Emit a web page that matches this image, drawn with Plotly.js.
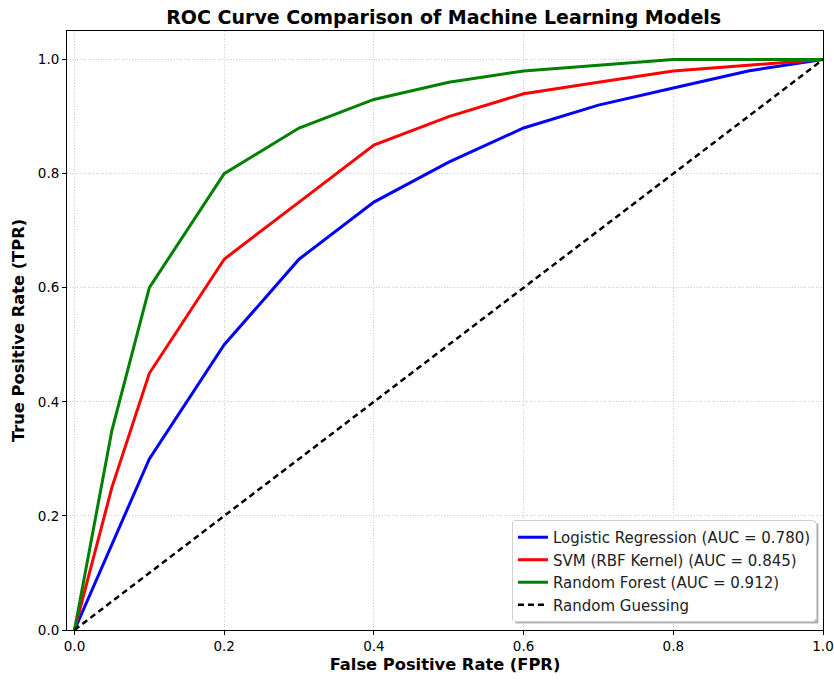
<!DOCTYPE html>
<html>
<head>
<meta charset="utf-8">
<script src="https://cdn.plot.ly/plotly-3.0.1.min.js"></script>
<style>html,body{margin:0;padding:0;background:#fff;}#chart{width:834px;height:680px;}</style>
</head>
<body>
<div id="chart"></div>
<script>
const lrFPR = [0, 0.05, 0.1, 0.2, 0.3, 0.4, 0.5, 0.6, 0.7, 0.8, 0.9, 1.0];
const lrTPR = [0, 0.15, 0.30, 0.50, 0.65, 0.75, 0.82, 0.88, 0.92, 0.95, 0.98, 1.0];
const svmFPR = [0, 0.05, 0.1, 0.2, 0.3, 0.4, 0.5, 0.6, 0.7, 0.8, 0.9, 1.0];
const svmTPR = [0, 0.25, 0.45, 0.65, 0.75, 0.85, 0.90, 0.94, 0.96, 0.98, 0.99, 1.0];
const rfFPR = [0, 0.05, 0.1, 0.2, 0.3, 0.4, 0.5, 0.6, 0.7, 0.8, 0.9, 1.0];
const rfTPR = [0, 0.35, 0.60, 0.80, 0.88, 0.93, 0.96, 0.98, 0.99, 1.0, 1.0, 1.0];
const diagX = [0, 1];
const diagY = [0, 1];
const seriesNames = ["Logistic Regression (AUC = 0.780)", "SVM (RBF Kernel) (AUC = 0.845)", "Random Forest (AUC = 0.912)", "Random Guessing"];
const tickVals = [0, 0.2, 0.4, 0.6, 0.8, 1.0];
const tickText = ["0.0", "0.2", "0.4", "0.6", "0.8", "1.0"];

const font = "DejaVu Sans, sans-serif";
const traces = [
  {x: lrFPR, y: lrTPR, mode: "lines", name: seriesNames[0], line: {color: "#0000ff", width: 3}},
  {x: svmFPR, y: svmTPR, mode: "lines", name: seriesNames[1], line: {color: "#ff0000", width: 3}},
  {x: rfFPR, y: rfTPR, mode: "lines", name: seriesNames[2], line: {color: "#008000", width: 3}},
  {x: diagX, y: diagY, mode: "lines", name: seriesNames[3], line: {color: "#000000", width: 2.5, dash: "6px,4px"}}
];
const axisCommon = {
  showline: true, linecolor: "#000", linewidth: 1, mirror: true,
  ticks: "outside", ticklen: 4, tickcolor: "#000", tickwidth: 1,
  showgrid: true, gridcolor: "#cfcfcf", griddash: "1px,1.6px", gridwidth: 1,
  zeroline: false, tickvals: tickVals, ticktext: tickText,
  tickfont: {family: font, size: 13.5, color: "#000"}
};
const layout = {
  width: 834, height: 680,
  margin: {l: 67, r: 11, t: 31, b: 50},
  paper_bgcolor: "#fff", plot_bgcolor: "#fff",
  title: {text: "<b>ROC Curve Comparison of Machine Learning Models</b>", font: {family: font, size: 19, color: "#000"}, x: 0.532, xanchor: "center", y: 0.975, yanchor: "middle"},
  xaxis: Object.assign({}, axisCommon, {range: [-0.01, 1.0], title: {text: "<b>False Positive Rate (FPR)</b>", font: {family: font, size: 16.3, color: "#000"}, standoff: 5}}),
  yaxis: Object.assign({}, axisCommon, {range: [0, 1.05], title: {text: "<b>True Positive Rate (TPR)</b>", font: {family: font, size: 16.3, color: "#000"}, standoff: 9}}),
  showlegend: true,
  legend: {x: 0.992, xanchor: "right", y: 0.0134, yanchor: "bottom", bgcolor: "#fff", bordercolor: "#d0d0d0", borderwidth: 1,
    font: {family: font, size: 15, color: "#222"}, itemwidth: 30},
  shapes: []
};
Plotly.newPlot("chart", traces, layout, {displayModeBar: false}).then(function (gd) {
  const bg = gd.querySelector(".legend .bg");
  if (!bg) return;
  const r = bg.getBoundingClientRect();
  const fs = gd._fullLayout._size;
  const toX = function (px) { return (px - fs.l) / fs.w; };
  const toY = function (py) { return (fs.t + fs.h - py) / fs.h; };
  Plotly.relayout(gd, {shapes: [{type: "rect", xref: "paper", yref: "paper", layer: "above",
    x0: toX(r.left + 3), x1: toX(r.right + 2), y0: toY(r.bottom + 2), y1: toY(r.top + 3),
    fillcolor: "rgba(0,0,0,0.3)", line: {width: 0}}]}).then(function () {
      const bg2 = gd.querySelector(".legend .bg");
      if (bg2) { bg2.setAttribute("rx", 4); bg2.setAttribute("ry", 4); }
    });
});
</script>
</body>
</html>
